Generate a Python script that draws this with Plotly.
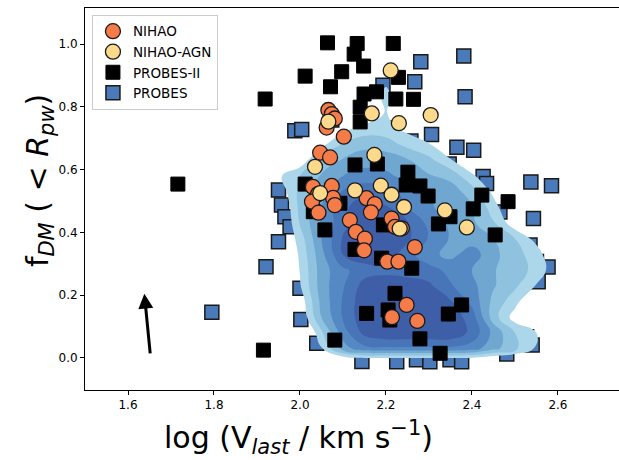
import plotly.graph_objects as go

# ---------------- data ----------------
nihao_x = [2.066, 2.074, 2.081, 2.062, 2.102, 2.047, 2.070, 2.030, 2.042, 2.028, 2.043, 2.074, 2.077, 2.081,
           2.155, 2.174, 2.165, 2.116, 2.130, 2.151, 2.149, 2.213, 2.221, 2.237, 2.267, 2.203, 2.229, 2.248,
           2.214, 2.273]
nihao_y = [0.790, 0.777, 0.763, 0.734, 0.705, 0.654, 0.639, 0.545, 0.522, 0.498, 0.463, 0.548, 0.510, 0.487,
           0.509, 0.490, 0.464, 0.439, 0.402, 0.380, 0.343, 0.444, 0.418, 0.413, 0.353, 0.307, 0.307, 0.169,
           0.130, 0.118]

agn_x = [2.066, 2.167, 2.211, 2.230, 2.304, 2.173, 2.035, 2.128, 2.188, 2.213, 2.047, 2.242, 2.337, 2.388, 2.232]
agn_y = [0.753, 0.779, 0.916, 0.748, 0.774, 0.647, 0.609, 0.534, 0.549, 0.520, 0.525, 0.481, 0.470, 0.416, 0.412]

probes2_x = [1.716, 1.915, 1.919, 2.012, 2.012, 2.064, 2.071, 2.097, 2.133, 2.126, 2.148, 2.149, 2.140, 2.140,
             2.128, 2.217, 2.229, 2.178, 2.223, 2.264, 2.180, 2.251, 2.247, 2.279, 2.298, 2.423, 2.484, 2.403,
             2.349, 2.322, 2.194, 2.454, 2.093, 2.031, 2.058, 2.128, 2.190, 2.260, 2.221, 2.205, 2.209, 2.155,
             2.345, 2.376, 2.279, 2.326, 2.081]
probes2_y = [0.554, 0.025, 0.825, 0.898, 0.554, 1.004, 0.864, 0.912, 1.002, 0.968, 0.930, 0.841, 0.799, 0.752,
             0.615, 1.002, 0.894, 0.848, 0.825, 0.824, 0.618, 0.592, 0.551, 0.548, 0.516, 0.519, 0.498, 0.475,
             0.450, 0.427, 0.424, 0.392, 0.493, 0.466, 0.408, 0.346, 0.318, 0.286, 0.206, 0.153, 0.121, 0.142,
             0.140, 0.169, 0.061, 0.015, 0.057]

probes_x = [2.281, 2.381, 2.267, 2.384, 2.193, 2.209, 2.306, 2.258, 2.365, 2.404, 2.426, 2.537, 2.585, 2.298,
            2.347, 1.988, 2.004, 2.074, 1.795, 1.950, 1.957, 1.965, 1.977, 1.950, 1.921, 2.000, 2.002, 2.039,
            2.144, 2.225, 2.271, 2.302, 2.349, 2.376, 2.481, 2.465, 2.543, 2.535, 2.550, 2.577, 2.554, 2.527,
            2.540, 2.263, 2.434]
probes_y = [0.944, 0.962, 0.880, 0.832, 0.869, 0.732, 0.712, 0.691, 0.671, 0.662, 0.578, 0.561, 0.549, 0.608,
            0.618, 0.724, 0.728, 0.758, 0.146, 0.535, 0.487, 0.450, 0.418, 0.370, 0.291, 0.222, 0.123, 0.047,
            -0.011, -0.012, -0.006, -0.012, -0.006, -0.012, 0.013, 0.465, 0.444, 0.360, 0.307, 0.290, 0.243,
            0.068, 0.041, 0.514, 0.556]

# density levels of the PROBES sample
dens_x = [1.90, 1.95, 2.00, 2.05, 2.10, 2.15, 2.20, 2.25, 2.30, 2.35, 2.40, 2.45, 2.50, 2.55, 2.60]
dens_y = [-0.02, 0.03, 0.08, 0.13, 0.18, 0.23, 0.28, 0.33, 0.38, 0.43, 0.48, 0.53, 0.58, 0.63, 0.68,
          0.73, 0.78, 0.83, 0.88, 0.93]
dens_z = [
    [-2, -2, -2, -2, -2, -2, -2, -2, -2, -2, -2, -2, -2, -2, -2],
    [-2, -2, -1.5, 0.4, 3.0, 4.2, 4.3, 4.3, 4.3, 4.3, 4.0, 2.8, 1.8, 0.3, -1],
    [-2, -2, -1.5, 1.3, 4.0, 5.8, 6.3, 6.3, 6.3, 6.3, 5.2, 3.2, 1.5, 0.5, -1],
    [-2, -2, -0.5, 2.5, 4.6, 6.2, 6.4, 6.4, 6.4, 6.2, 5.0, 2.0, 0.0, -1, -2],
    [-2, -2, -0.2, 2.8, 4.6, 6.2, 6.4, 6.4, 6.2, 5.6, 4.2, 2.2, 0.9, -1, -2],
    [-2, -2, 0.4, 3.0, 4.4, 5.9, 6.1, 6.1, 5.7, 4.6, 3.8, 2.6, 1.7, 0.4, -1],
    [-2, -1.5, 0.55, 3.0, 4.3, 5.0, 5.2, 5.0, 4.9, 4.2, 3.5, 2.6, 1.8, 1.3, -0.5],
    [-2, -1.5, 0.7, 3.2, 5.5, 6.2, 6.1, 4.9, 3.8, 3.2, 4.0, 2.8, 1.8, 1.1, -1],
    [-2, -1.2, 1.0, 3.5, 5.6, 6.3, 6.3, 5.7, 4.4, 3.4, 3.0, 2.5, 1.5, 0.1, -1.5],
    [-2, -1.3, 1.6, 3.6, 5.2, 6.2, 6.2, 5.6, 4.2, 3.3, 2.7, 1.6, -0.2, -2, -2],
    [-2, -1.0, 1.8, 3.5, 5.3, 6.0, 5.6, 4.5, 3.6, 3.2, 2.6, 1.0, -1, -2, -2],
    [-2, -0.3, 1.8, 3.0, 4.6, 5.2, 4.8, 4.2, 3.5, 3.0, 2.0, 0.2, -1.5, -2, -2],
    [-2, 0.3, 1.5, 2.6, 3.5, 3.9, 3.7, 3.2, 2.6, 2.2, 0.7, -0.5, -2, -2, -2],
    [-2, -2, -0.3, 1.9, 2.6, 3.1, 3.1, 2.6, 1.8, 0.6, -0.5, -2, -2, -2, -2],
    [-2, -2, -2, 0.2, 1.6, 2.2, 2.0, 1.2, 0.6, -0.5, -2, -2, -2, -2, -2],
    [-2, -2, -2, -1, 0.2, 0.9, 0.9, 0.2, -1, -2, -2, -2, -2, -2, -2],
    [-2, -2, -2, -2, -2, -0.5, 0.6, -1, -2, -2, -2, -2, -2, -2, -2],
    [-2, -2, -2, -2, -2, -1, 0.9, -1, -2, -2, -2, -2, -2, -2, -2],
    [-2, -2, -2, -2, -2, -2, 0.3, -2, -2, -2, -2, -2, -2, -2, -2],
    [-2, -2, -2, -2, -2, -2, -2, -2, -2, -2, -2, -2, -2, -2, -2],
]

x_ticks = [1.6, 1.8, 2.0, 2.2, 2.4, 2.6]
y_ticks = [0.0, 0.2, 0.4, 0.6, 0.8, 1.0]
x_range = [1.5, 2.742]
y_range = [-0.102, 1.115]

# ---------------- figure ----------------
FONT = "DejaVu Sans"
band_colors = ["#acd6ea", "#8ec2de", "#6fa7d1", "#5589c4", "#4874b8", "#3e5ea8"]
colorscale = [[0.0, "rgba(255,255,255,0)"]] + [[(i + 1) / 6, c] for i, c in enumerate(band_colors)]

fig = go.Figure()

# PROBES squares (below the contours)
fig.add_trace(go.Scatter(
    x=probes_x, y=probes_y, mode="markers", name="PROBES", legendrank=4,
    marker=dict(symbol="square", size=14, color="#4a7aba", line=dict(color="#1a1a1a", width=1.5)),
    xaxis="x", yaxis="y"))

# density contours
fig.add_trace(go.Contour(
    x=dens_x, y=dens_y, z=dens_z, autocontour=False,
    contours=dict(start=0.5, end=5.5, size=1, coloring="fill", showlines=False),
    line=dict(width=0, smoothing=1.3), colorscale=colorscale, showscale=False,
    hoverinfo="skip", showlegend=False, xaxis="x2", yaxis="y2"))

fig.add_trace(go.Scatter(
    x=probes2_x, y=probes2_y, mode="markers", name="PROBES-II", legendrank=3,
    marker=dict(symbol="square", size=14, color="black", line=dict(color="black", width=1)),
    xaxis="x2", yaxis="y2"))

fig.add_trace(go.Scatter(
    x=nihao_x, y=nihao_y, mode="markers", name="NIHAO", legendrank=1,
    marker=dict(symbol="circle", size=15, color="#f57c48", line=dict(color="#1a1a1a", width=1.3)),
    xaxis="x2", yaxis="y2"))

fig.add_trace(go.Scatter(
    x=agn_x, y=agn_y, mode="markers", name="NIHAO-AGN", legendrank=2,
    marker=dict(symbol="circle", size=15, color="#fdd98b", line=dict(color="#1a1a1a", width=1.3)),
    xaxis="x2", yaxis="y2"))

axis_common = dict(showgrid=False, zeroline=False, ticks="outside", ticklen=4, tickwidth=1,
                   tickcolor="black", showline=True, linecolor="black", linewidth=1, mirror=True,
                   tickfont=dict(family=FONT, size=12, color="black"))

fig.update_layout(
    width=619, height=460,
    margin=dict(l=85, r=0, t=8, b=70),
    paper_bgcolor="white", plot_bgcolor="white",
    font=dict(family=FONT, color="black"),
    xaxis=dict(range=x_range, tickvals=x_ticks, ticktext=[f"{v:.1f}" for v in x_ticks], **axis_common),
    yaxis=dict(range=y_range, tickvals=y_ticks, ticktext=[f"{v:.1f}" for v in y_ticks], **axis_common),
    xaxis2=dict(range=x_range, overlaying="x", anchor="y2", visible=False),
    yaxis2=dict(range=y_range, overlaying="y", anchor="x2", visible=False),
    legend=dict(x=0.013, y=0.982, xanchor="left", yanchor="top", bgcolor="rgba(255,255,255,0.85)",
                bordercolor="#cccccc", borderwidth=1, font=dict(family=FONT, size=13.5, color="black"),
                itemsizing="trace"),
    showlegend=True,
)

fig.add_annotation(
    x=1.638, y=0.205, ax=1.652, ay=0.01, xref="x", yref="y", axref="x", ayref="y",
    text="", showarrow=True, arrowhead=2, arrowsize=1.0, arrowwidth=3, arrowcolor="black")

fig.add_annotation(
    x=0.399, y=-0.124, xref="paper", yref="paper", xanchor="center", yanchor="middle",
    text="log (V<sub><i>last</i></sub> / km s<sup>\u22121</sup>)", showarrow=False,
    font=dict(family=FONT, size=30, color="black"))

fig.add_annotation(
    x=-0.086, y=0.547, xref="paper", yref="paper", xanchor="center", yanchor="middle",
    text="f<sub><i>DM</i></sub> ( < <i>R</i><sub><i>pw</i></sub>)", showarrow=False, textangle=-90,
    font=dict(family=FONT, size=30, color="black"))

fig.write_html("out.html")
